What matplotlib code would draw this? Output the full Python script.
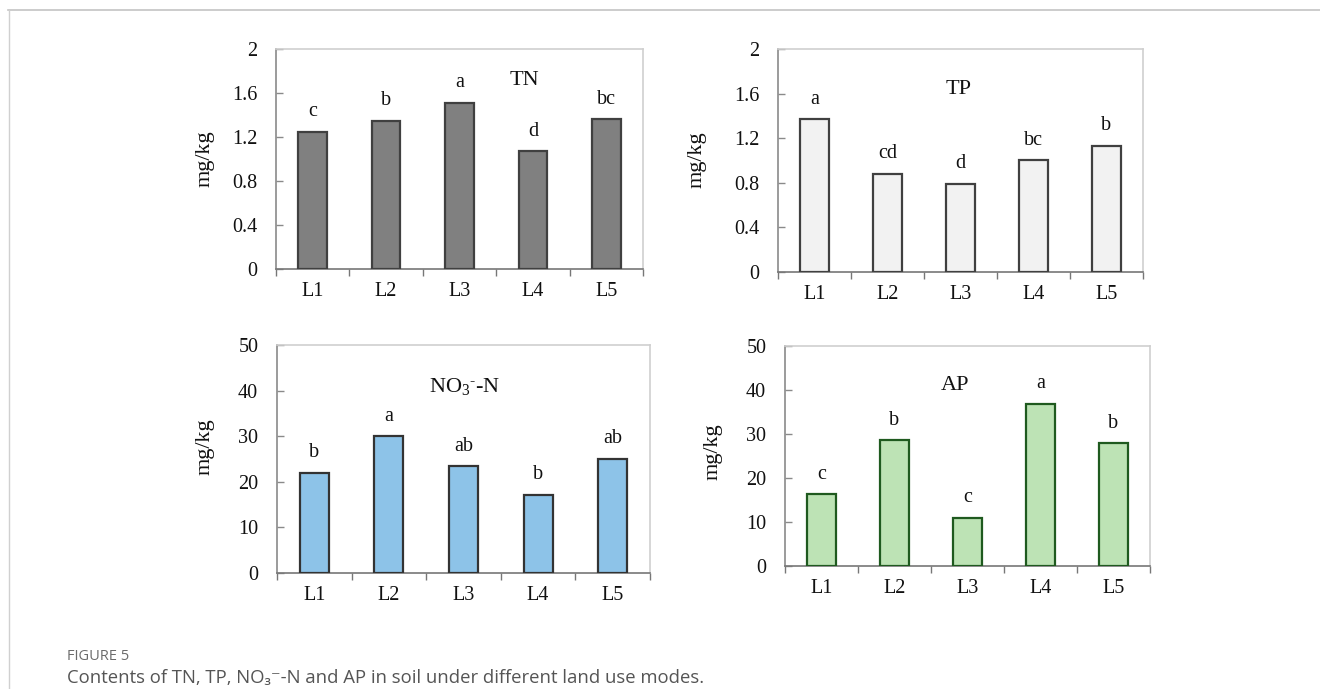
import matplotlib
matplotlib.use("Agg")
import matplotlib.pyplot as plt
from matplotlib.lines import Line2D
from matplotlib.ticker import FixedLocator, FuncFormatter

plt.rcParams["font.family"] = ["Liberation Serif", "DejaVu Serif"]
plt.rcParams["mathtext.fontset"] = "custom"
plt.rcParams["mathtext.rm"] = "Liberation Serif"
plt.rcParams["mathtext.it"] = "Liberation Serif:italic"
plt.rcParams["mathtext.bf"] = "Liberation Serif:bold"

# Land-use categories
sites = ["L1", "L2", "L3", "L4", "L5"]

# Nutrient contents (mg/kg) and significance letters
tn_values = [1.25, 1.35, 1.51, 1.07, 1.36]
tn_letters = ["c", "b", "a", "d", "bc"]

tp_values = [1.37, 0.88, 0.79, 1.00, 1.13]
tp_letters = ["a", "cd", "d", "bc", "b"]

no3_values = [22.0, 30.0, 23.4, 17.1, 25.1]
no3_letters = ["b", "a", "ab", "b", "ab"]

ap_values = [16.3, 28.6, 11.0, 36.8, 27.9]
ap_letters = ["c", "b", "c", "a", "b"]

W, H = 1320, 689
fig = plt.figure(figsize=(W / 100, H / 100), dpi=100)


def px_rect(left, right, top, bottom):
    return [left / W, 1 - bottom / H, (right - left) / W, (bottom - top) / H]


panels = [
    dict(rect=px_rect(276, 643, 49, 269), values=tn_values, letters=tn_letters,
         ymax=2.0, ystep=0.4, fill="#808080", edge="#404040",
         title="TN", title_pos=(0.678, 0.859), ylab_px=(205, 159)),
    dict(rect=px_rect(778, 1143, 49, 272), values=tp_values, letters=tp_letters,
         ymax=2.0, ystep=0.4, fill="#f2f2f2", edge="#404040",
         title="TP", title_pos=(0.494, 0.817), ylab_px=(697, 160)),
    dict(rect=px_rect(277, 650, 345, 573), values=no3_values, letters=no3_letters,
         ymax=50, ystep=10, fill="#8dc3e8", edge="#333333",
         title=r"NO$_3$$^{\mathbf{\text{-}}}$-N", title_pos=(0.504, 0.816), ylab_px=(205, 447)),
    dict(rect=px_rect(785, 1150, 346, 566), values=ap_values, letters=ap_letters,
         ymax=50, ystep=10, fill="#bde3b5", edge="#1f5a1f",
         title="AP", title_pos=(0.465, 0.822), ylab_px=(713, 452)),
]

x = list(range(len(sites)))

for p in panels:
    ax = fig.add_axes(p["rect"])
    ax.bar(x, p["values"], width=0.39, color=p["fill"], edgecolor=p["edge"],
           linewidth=1.6, zorder=3)
    for xi, v, lab in zip(x, p["values"], p["letters"]):
        ax.annotate(lab, (xi, v), xytext=(0, 14.5), textcoords="offset points",
                    ha="center", va="center", fontsize=14.5, color="#111111")

    ax.set_xlim(-0.5, len(sites) - 0.5)
    ax.set_ylim(0, p["ymax"])

    # category boundaries carry the tick marks, centres carry the labels
    ax.xaxis.set_major_locator(FixedLocator([i - 0.5 for i in range(len(sites) + 1)]))
    ax.xaxis.set_major_formatter(FuncFormatter(lambda v, pos: ""))
    ax.xaxis.set_minor_locator(FixedLocator(x))
    ax.set_xticklabels(sites, minor=True)
    ax.tick_params(axis="x", which="major", direction="out", length=5,
                   width=1.0, color="#777777")
    ax.tick_params(axis="x", which="minor", length=0, pad=9.5,
                   labelsize=14.5, labelcolor="#111111")

    n = int(round(p["ymax"] / p["ystep"]))
    ax.set_yticks([i * p["ystep"] for i in range(n + 1)])
    ax.yaxis.set_major_formatter(FuncFormatter(lambda v, pos: f"{v:g}"))
    ax.tick_params(axis="y", direction="in", length=5, width=1.0,
                   color="#8a8a8a", labelsize=14.5, labelcolor="#111111", pad=13.5)

    ax.spines["left"].set_color("#8a8a8a")
    ax.spines["bottom"].set_color("#777777")
    ax.spines["top"].set_color("#cfcfcf")
    ax.spines["right"].set_color("#cfcfcf")
    for s in ax.spines.values():
        s.set_linewidth(1.2)

    ax.text(p["title_pos"][0], p["title_pos"][1], p["title"], transform=ax.transAxes,
            ha="center", va="center", fontsize=16, color="#111111")

    lx, ly = p["ylab_px"]
    fig.text(lx / W, 1 - ly / H, "mg/kg", rotation=90, ha="center", va="center",
             fontsize=16, color="#111111")

# outer frame of the figure panel
fig.add_artist(Line2D([8 / W, 1], [1 - 9.5 / H, 1 - 9.5 / H], color="#c4c4c4", lw=1.2))
fig.add_artist(Line2D([8.5 / W, 8.5 / W], [0, 1 - 9.5 / H], color="#d0d0d0", lw=1.0))

cap_family = ["Open Sans", "DejaVu Sans"]
fig.text(67 / W, 1 - 657 / H, "FIGURE 5", ha="left", va="center", fontsize=10.5,
         color="#6b6b6b", family=cap_family)
fig.text(67 / W, 1 - 678 / H,
         "Contents of TN, TP, NO\u2083\u207b-N and AP in soil under different land use modes.",
         ha="left", va="center", fontsize=13.3, color="#555555", family=cap_family)

fig.savefig("out.png", dpi=100)
